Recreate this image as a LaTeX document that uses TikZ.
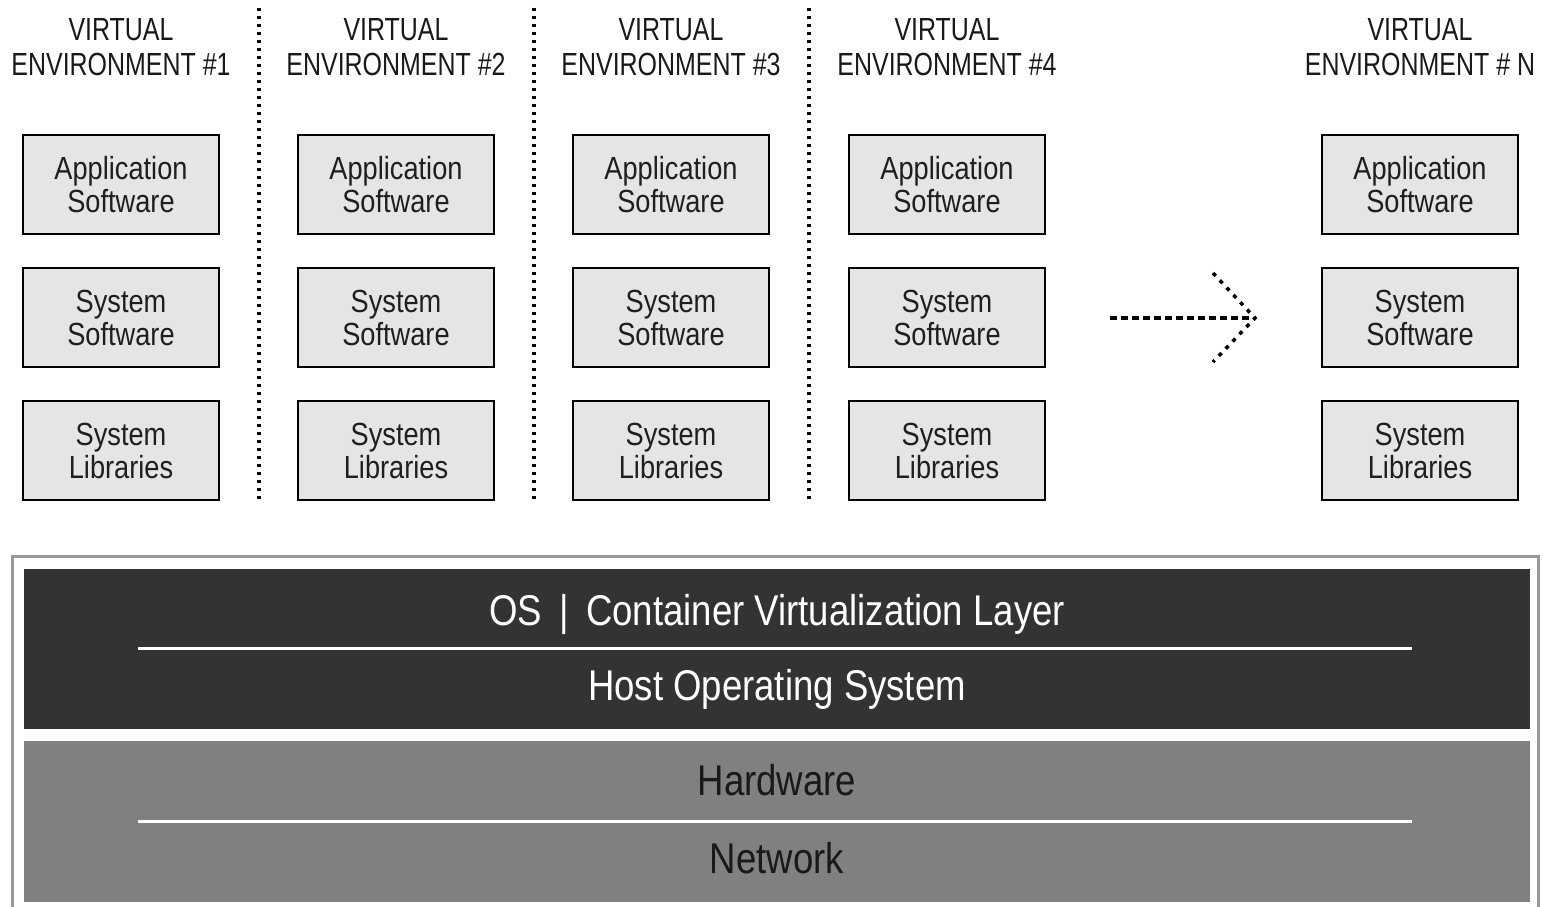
\documentclass[tikz,border=0pt]{standalone}
\usepackage{fontspec}
\setmainfont{Liberation Sans}
\newfontfamily\boxfont[FakeStretch=0.85]{Liberation Sans}
\newfontfamily\headfont[FakeStretch=0.78]{Liberation Sans}
\usetikzlibrary{
  positioning  % Function "of" (e.g. [below=of x])
}
\def\myboxw{196pt}
\def\myboxh{99pt}
\def\myvgap{32pt}
\definecolor{boxgray}{HTML}{E5E5E5}
\definecolor{osdark}{HTML}{333333}
\definecolor{hwgray}{HTML}{808080}
\definecolor{framegray}{HTML}{999999}
\tikzset{
  x=1pt, y=-1pt,
  layer box/.style={
    draw=black,
    line width=2pt,
    fill=boxgray,
    minimum width=\myboxw,
    minimum height=\myboxh,
    inner sep=0pt,
    align=center,
    text=black!88,
    font=\boxfont\fontsize{32}{33}\selectfont
  },
  env title/.style={
    align=center,
    inner sep=0pt,
    text=black!90,
    font=\headfont\fontsize{32}{35}\selectfont
  },
  separator/.style={
    line width=3.5pt,
    dash pattern=on 3pt off 5pt
  },
  host band/.style={
    fill=#1,
    draw=none,
    minimum width=1506pt,
    inner sep=0pt
  },
  band label/.style={
    anchor=base,
    inner sep=0pt,
    font=\boxfont\fontsize{43}{45}\selectfont
  },
  band rule/.style={
    draw=white,
    line width=3pt
  },
  more arrow/.style={
    line width=3.5pt,
    dash pattern=on 7pt off 4pt
  },
  more head/.style={
    line width=3.5pt,
    dash pattern=on 4pt off 6pt
  }
}
\begin{document}
\begin{tikzpicture}
\useasboundingbox (0,0) rectangle (1543,907);
% environment headers
\node[env title] (title1) at (121,47.5)  {VIRTUAL\\ENVIRONMENT \#1};
\node[env title] (title2) at (396,47.5)  {VIRTUAL\\ENVIRONMENT \#2};
\node[env title] (title3) at (671,47.5)  {VIRTUAL\\ENVIRONMENT \#3};
\node[env title] (title4) at (947,47.5)  {VIRTUAL\\ENVIRONMENT \#4};
\node[env title] (titleN) at (1420,47.5) {VIRTUAL\\ENVIRONMENT \# N};
% stacks
\node[layer box] (app1) at (121,184.5) {Application\\Software};
\node[layer box] (sys1) [below=\myvgap of app1] {System\\Software};
\node[layer box] (lib1) [below=\myvgap of sys1] {System\\Libraries};
\node[layer box] (app2) at (396,184.5) {Application\\Software};
\node[layer box] (sys2) [below=\myvgap of app2] {System\\Software};
\node[layer box] (lib2) [below=\myvgap of sys2] {System\\Libraries};
\node[layer box] (app3) at (671,184.5) {Application\\Software};
\node[layer box] (sys3) [below=\myvgap of app3] {System\\Software};
\node[layer box] (lib3) [below=\myvgap of sys3] {System\\Libraries};
\node[layer box] (app4) at (947,184.5) {Application\\Software};
\node[layer box] (sys4) [below=\myvgap of app4] {System\\Software};
\node[layer box] (lib4) [below=\myvgap of sys4] {System\\Libraries};
\node[layer box] (appN) at (1420,184.5) {Application\\Software};
\node[layer box] (sysN) [below=\myvgap of appN] {System\\Software};
\node[layer box] (libN) [below=\myvgap of sysN] {System\\Libraries};
% separators
\coordinate (sep1a) at (259,8);   \coordinate (sep1b) at (259,502);
\coordinate (sep2a) at (534,8);   \coordinate (sep2b) at (534,502);
\coordinate (sep3a) at (809,8);   \coordinate (sep3b) at (809,502);
\draw[separator] (sep1a) -- (sep1b);
\draw[separator] (sep2a) -- (sep2b);
\draw[separator] (sep3a) -- (sep3b);
% "and so on" arrow
\coordinate (moretail) at (1110,318);
\coordinate (moretip)  at (1255,318);
\coordinate (moreup)   at (1213,273);
\coordinate (moredown) at (1213,362);
\draw[more arrow] (moretail) -- ([xshift=-2pt]moretip);
\draw[more head]  (moreup) -- (moretip) -- (moredown);
% host
\draw[framegray,line width=3pt] (12,910) -- (12,556) -- (1538,556) -- (1538,910);
\node[host band=osdark,minimum height=160pt] (oslayer) at (777,649) {};
\node[host band=hwgray,minimum height=161pt] (hwlayer) at (777,821.5) {};
\node[band label,text=white]    (ostext)   at (777,625) {OS \,|\, Container Virtualization Layer};
\node[band label,text=white]    (hosttext) at (777,700) {Host Operating System};
\node[band label,text=black!90] (hwtext)   at (777,795) {Hardware};
\node[band label,text=black!90] (nettext)  at (777,873) {Network};
\draw[band rule] (138,648) -- (1412,648);
\draw[band rule] (138,821) -- (1412,821);
\end{tikzpicture}
\end{document}
